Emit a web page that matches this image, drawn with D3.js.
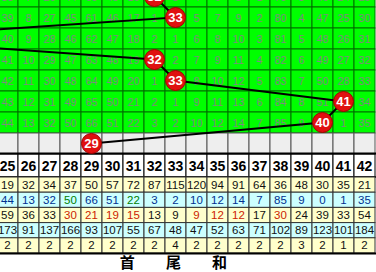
<!DOCTYPE html>
<html>
<head>
<meta charset="utf-8">
<script src="https://cdn.jsdelivr.net/npm/d3@7"></script>
<style>
  body { margin: 0; background: #fff; overflow: hidden; }
  svg { display: block; }
</style>
</head>
<body>
<div id="chart"></div>
<script>
// 號碼欄位 (只看得到 25 ~ 42)
let cols = [25, 26, 27, 28, 29, 30, 31, 32, 33, 34, 35, 36, 37, 38, 39, 40, 41, 42];

// 每期開出的號碼 (最後一列是灰色列)
let balls = [32, 33, 18, 32, 33, 41, 40, 29];

// 遺漏值 (null = 該期開出)
let missRows = [
  [38, 7, 26, 44, 60, 45, 16, null, 5, 4, 6, 8, 1, 79, 3, 46, 24, 29],
  [39, 8, 27, 45, 61, 46, 17, 1, null, 5, 7, 9, 2, 80, 4, 47, 25, 30],
  [40, 9, 28, 46, 62, 47, 18, 2, 1, 6, 8, 10, 3, 81, 5, 48, 26, 31],
  [41, 10, 29, 47, 63, 48, 19, null, 2, 7, 9, 11, 4, 82, 6, 49, 27, 32],
  [42, 11, 30, 48, 64, 49, 20, 1, null, 8, 10, 12, 5, 83, 7, 50, 28, 33],
  [43, 12, 31, 49, 65, 50, 21, 2, 1, 9, 11, 13, 6, 84, 8, 51, null, 34],
  [44, 13, 32, 50, 66, 51, 22, 3, 2, 10, 12, 14, 7, 85, 9, null, 1, 35]
];

// 底部統計列
let statTimes  = [19, 32, 34, 37, 50, 57, 72, 87, 115, 120, 94, 91, 64, 36, 48, 30, 35, 21];
let statMiss   = [44, 13, 32, 50, 66, 51, 22, 3, 2, 10, 12, 14, 7, 85, 9, 0, 1, 35];
let statAvg    = [59, 36, 33, 30, 21, 19, 15, 13, 9, 9, 12, 12, 17, 30, 24, 39, 33, 54];
let statMax    = [173, 91, 137, 166, 93, 107, 55, 67, 48, 47, 52, 63, 71, 102, 89, 123, 101, 184];
let statStreak = [2, 2, 2, 2, 2, 2, 2, 2, 4, 2, 2, 2, 2, 2, 3, 2, 1, 2];

let footLabels = ["首", "尾", "和"];
let footCols = [30.7, 32.9, 35.1];

let statRows = [statTimes, statMiss, statAvg, statMax, statStreak];
let statBg = ["#ffffcc", "#ccffff", "#ffffcc", "#ccffff", "#ffffcc"];
let missColor = { 3: "#008000", 6: "#008000" };            // 遺漏列的綠字 (欄位 index)
let avgRed = [3, 4, 5, 6, 9, 10, 11, 13];                  // 平均列的紅字 (欄位 index)

let width = 376, height = 272;

let svg = d3.select("#chart")
  .append("svg")
  .attr("width", width)
  .attr("height", height);

let x = d3.scaleLinear().domain([25, 42]).range([7.5, 364.5]);
let cw = 21;

let rowIdx = d3.range(balls.length);
let y = d3.scaleBand().domain(rowIdx).range([-14, 154]);
let yStat = d3.scaleBand().domain(d3.range(statRows.length)).range([177, 253]);

/* ------------------ 遺漏區 ------------------ */
rowIdx.forEach(r => {
  let isGray = r == balls.length - 1;
  let g = svg.append("g");
  g.selectAll("rect")
    .data(cols)
    .enter()
    .append("rect")
    .attr("x", c => x(c) - cw / 2)
    .attr("y", y(r))
    .attr("width", cw)
    .attr("height", y.bandwidth())
    .attr("fill", isGray ? "#eeeeee" : "#00ff00")
    .attr("stroke", isGray ? "#555" : "#007000")
    .attr("stroke-width", 1);

  if (!isGray) {
    g.selectAll("text")
      .data(missRows[r].map((v, i) => ({ v: v, c: cols[i] })).filter(d => d.v != null))
      .enter()
      .append("text")
      .attr("x", d => x(d.c))
      .attr("y", y(r) + y.bandwidth() / 2 + 4)
      .attr("text-anchor", "middle")
      .style("font-family", "Arial, 'Liberation Sans'")
      .style("font-size", "11px")
      .style("fill", "#7c8c7c")
      .text(d => d.v);
  }
});

/* ------------------ 表頭 ------------------ */
svg.append("g").selectAll("rect")
  .data(cols)
  .enter()
  .append("rect")
  .attr("x", c => x(c) - cw / 2)
  .attr("y", 154)
  .attr("width", cw)
  .attr("height", 23)
  .attr("fill", "#fff")
  .attr("stroke", "#000");

svg.append("g").selectAll("text")
  .data(cols)
  .enter()
  .append("text")
  .attr("x", c => x(c))
  .attr("y", 171)
  .attr("text-anchor", "middle")
  .style("font-family", "Arial, 'Liberation Sans'")
  .style("font-weight", "bold")
  .style("font-size", "14px")
  .text(c => c);

svg.append("line").attr("x1", 0).attr("x2", width).attr("y1", 153.5).attr("y2", 153.5)
  .attr("stroke", "#000").attr("stroke-width", 2);
svg.append("line").attr("x1", 0).attr("x2", width).attr("y1", 177).attr("y2", 177)
  .attr("stroke", "#000").attr("stroke-width", 1.5);

/* ------------------ 統計列 ------------------ */
statRows.forEach((vals, r) => {
  let g = svg.append("g");
  g.selectAll("rect")
    .data(cols)
    .enter()
    .append("rect")
    .attr("x", c => x(c) - cw / 2)
    .attr("y", yStat(r))
    .attr("width", cw)
    .attr("height", yStat.bandwidth())
    .attr("fill", statBg[r])
    .attr("stroke", "#333")
    .attr("stroke-width", 1);

  g.selectAll("text")
    .data(vals)
    .enter()
    .append("text")
    .attr("x", (v, i) => x(cols[i]))
    .attr("y", yStat(r) + yStat.bandwidth() / 2 + 4)
    .attr("text-anchor", "middle")
    .style("font-family", "Arial, 'Liberation Sans'")
    .style("font-size", "11.5px")
    .style("fill", (v, i) => {
      if (r == 1) return missColor[i] || "#00308f";
      if (r == 2 && avgRed.includes(i)) return "#cc2200";
      return "#111";
    })
    .text(v => v);
});

svg.append("line").attr("x1", 0).attr("x2", width).attr("y1", 253.5).attr("y2", 253.5)
  .attr("stroke", "#000").attr("stroke-width", 2);

/* ------------------ 走勢線 + 球 ------------------ */
let pts = balls.map((b, r) => [x(b), y(r) + y.bandwidth() / 2]);

svg.append("path")
  .attr("d", d3.line()(pts))
  .attr("fill", "none")
  .attr("stroke", "#000")
  .attr("stroke-width", 2);

let ball = svg.append("g").selectAll("g")
  .data(pts.map((p, i) => ({ p: p, n: balls[i] })))
  .enter()
  .append("g")
  .attr("transform", d => "translate(" + d.p[0] + "," + d.p[1] + ")");

ball.append("circle")
  .attr("r", 10)
  .attr("fill", "#e01010")
  .attr("stroke", "#a00000")
  .attr("stroke-width", 1);

ball.append("text")
  .attr("y", 4.5)
  .attr("text-anchor", "middle")
  .style("font-family", "Arial, 'Liberation Sans'")
  .style("font-weight", "bold")
  .style("font-size", "13px")
  .style("fill", "#fff")
  .text(d => d.n);

/* ------------------ 底部文字 ------------------ */
svg.append("g").selectAll("text")
  .data(footLabels)
  .enter()
  .append("text")
  .attr("x", (d, i) => x(footCols[i]))
  .attr("y", 268)
  .attr("text-anchor", "middle")
  .style("font-family", "'Noto Sans CJK TC', 'Noto Sans CJK SC'")
  .style("font-weight", "bold")
  .style("font-size", "15px")
  .text(d => d);
</script>
</body>
</html>
